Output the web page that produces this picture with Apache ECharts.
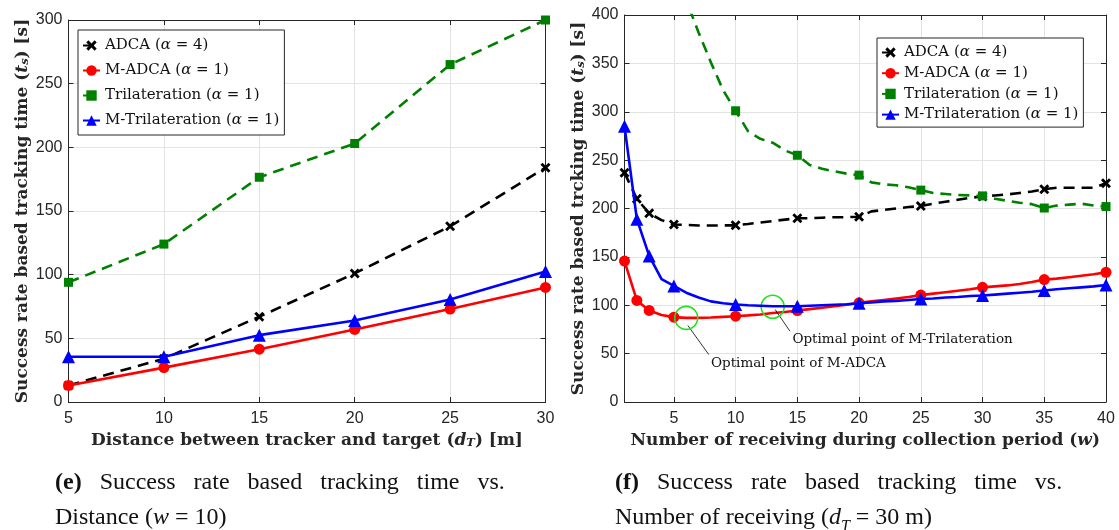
<!DOCTYPE html>
<html><head><meta charset="utf-8">
<script src="https://cdn.jsdelivr.net/npm/echarts@6/dist/echarts.min.js"></script>
<style>html,body{margin:0;padding:0;background:#fff}#c{width:1119px;height:530px}</style>
</head><body><div id="c"></div>
<script>
// ---------- data: left panel (vs. distance) ----------
const leftX = [5, 10, 15, 20, 25, 30];
const leftADCA = [13, 34, 67, 101, 138, 184];
const leftMADCA = [13, 27, 41.5, 57, 73, 90];
const leftTri = [94, 124, 176.5, 203, 265, 300];
const leftMTri = [35.5, 35.5, 52.5, 64, 80.5, 102.5];

// ---------- data: right panel (vs. number of receiving) ----------
const rightW = [1,2,3,4,5,6,7,8,9,10,11,12,13,14,15,16,17,18,19,20,21,22,23,24,25,26,27,28,29,30,31,32,33,34,35,36,37,38,39,40];
const rightADCA = [237,210,195,188,183.5,183,182.5,182.5,182.5,182.6,184,185.5,187,188.5,190,190,190.5,191,191,191.5,197,198.5,200,201.5,202.5,205,207,209,211,212.5,213.5,214.5,216,217.5,220,221.5,221.5,221.5,221.5,226];
const rightMADCA = [145.7,105,94.6,90,87.7,87,87,87.3,88,88.7,89.5,90.5,92,93,94.5,96,97.5,99,100.5,102.5,104,105.5,107,108.5,110.5,112,113.5,115,116.5,118.5,119.5,120.5,122,124,126.5,127.5,129,130.5,132,134];
const rightTriW = [5,6,7,8,9,10,11,12,13,14,15,16,17,18,19,20,21,22,23,24,25,26,27,28,29,30,31,32,33,34,35,36,37,38,39,40];
const rightTri = [460,415,382,351,322,301,280,272,268,260,255,245,241,238.5,236,234.5,227,225,224,222,219,216,215,214,213.5,213,210,208,206,204.5,200.5,203,204,205,203,202];
const rightMTri = [285,189,151,127,120,113,108,104,102,100.8,100,99.5,99,99,99,99.5,100,100.5,101,102,103,104,104.5,105.5,106.5,107,108,108.5,109.5,110,111,112,113,114,115.3,116.5,117.5,118.5,119.5,121];
const rightMarkerW = [1, 2, 3, 5, 10, 15, 20, 25, 30, 35, 40];
const rightXTicks = [5, 10, 15, 20, 25, 30, 35, 40];

// annotations (data coordinates of the right panel)
const optimalCircles = [[6, 87], [13, 98.4]];
const arrowMADCA = [[7.83, 49], [6.13, 79.1]];
const arrowMTri = [[14.4, 73.2], [13.2, 95.6]];
const textMADCA = [8.0, 39.8];
const textMTri = [14.6, 64.6];

const names = ['ADCA (α = 4)', 'M-ADCA (α = 1)', 'Trilateration (α = 1)', 'M-Trilateration (α = 1)'];

// ---------- styles ----------
const AX = '#262626';
const GRIDC = '#e3e3e3';
const SANS = 'Liberation Sans, Arial, sans-serif';
const SERIF = 'Liberation Serif, Times New Roman, serif';
const CM = 'DejaVu Serif, serif';
const XSYM = 'path://M2,0 L5,3 L8,0 L10,2 L7,5 L10,8 L8,10 L5,7 L2,10 L0,8 L3,5 L0,2 Z';
const DASH = [11, 7];
const styles = [
  {color: '#000000', symbol: XSYM, size: 10, dash: DASH},
  {color: '#ff0000', symbol: 'circle', size: 11, dash: 'solid'},
  {color: '#008000', symbol: 'rect', size: 9, dash: DASH},
  {color: '#0000ff', symbol: 'triangle', size: 13, dash: 'solid'}
];

function zip(xs, ys) { return xs.map((x, i) => [x, ys[i]]); }

const grids = [
  {left: 68.5, top: 20, width: 477, height: 382},
  {left: 624.5, top: 15, width: 481.5, height: 387}
];

const TFS = 17;
const titleStyle = {color: AX, fontFamily: CM, fontWeight: 'bold', fontSize: TFS,
  rich: {i: {fontFamily: CM, fontStyle: 'italic', fontSize: TFS, color: AX},
         s: {fontFamily: CM, fontStyle: 'italic', fontSize: 11.5, color: AX, verticalAlign: 'bottom'},
         r: {fontFamily: CM, fontSize: TFS, color: AX}}};

function mainX(gi, min, max, interval, custom, name) {
  const o = {
    type: 'value', gridIndex: gi, min: min, max: max,
    axisLine: {show: true, onZero: false, lineStyle: {color: AX, width: 1}},
    axisTick: {show: true, inside: true, length: 5, lineStyle: {color: AX}},
    axisLabel: {color: AX, fontFamily: SANS, fontSize: 16, margin: 9},
    splitLine: {show: true, lineStyle: {color: GRIDC, width: 1}},
    name: name, nameLocation: 'middle', nameGap: 25, nameTextStyle: titleStyle
  };
  if (interval) o.interval = interval;
  if (custom) { o.axisLabel.customValues = custom; o.axisTick.customValues = custom; }
  return o;
}
function mainY(gi, min, max, interval, name, gap) {
  return {
    type: 'value', gridIndex: gi, min: min, max: max, interval: interval,
    axisLine: {show: true, onZero: false, lineStyle: {color: AX, width: 1}},
    axisTick: {show: true, inside: true, length: 5, lineStyle: {color: AX}},
    axisLabel: {color: AX, fontFamily: SANS, fontSize: 16, margin: 6},
    splitLine: {show: true, lineStyle: {color: GRIDC, width: 1}},
    name: name, nameLocation: 'middle', nameGap: gap, nameRotate: 90, nameTextStyle: titleStyle
  };
}
function mirrorX(gi, min, max, interval, custom) {
  const o = {type: 'value', gridIndex: gi, position: 'top', min: min, max: max,
    axisLine: {show: true, onZero: false, lineStyle: {color: AX, width: 1}},
    axisTick: {show: true, inside: true, length: 5, lineStyle: {color: AX}},
    axisLabel: {show: false}, splitLine: {show: false}};
  if (interval) o.interval = interval;
  if (custom) { o.axisTick.customValues = custom; o.axisLabel.customValues = custom; }
  return o;
}
function mirrorY(gi, min, max, interval) {
  return {type: 'value', gridIndex: gi, position: 'right', min: min, max: max, interval: interval,
    axisLine: {show: true, onZero: false, lineStyle: {color: AX, width: 1}},
    axisTick: {show: true, inside: true, length: 5, lineStyle: {color: AX}},
    axisLabel: {show: false}, splitLine: {show: false}};
}

function mkSeries(k, xi, yi, data, markerList) {
  const st = styles[k];
  return {
    type: 'line', name: names[k], xAxisIndex: xi, yAxisIndex: yi, data: data,
    symbol: st.symbol, showAllSymbol: true, clip: true,
    symbolSize: markerList ? (v) => (markerList.indexOf(v[0]) >= 0 ? st.size : 0) : st.size,
    lineStyle: {color: st.color, width: 2.6, type: st.dash},
    itemStyle: {color: st.color, borderWidth: 0},
    emphasis: {disabled: true}, animation: false, z: 3 + k
  };
}

const series = [
  mkSeries(0, 0, 0, zip(leftX, leftADCA)),
  mkSeries(1, 0, 0, zip(leftX, leftMADCA)),
  mkSeries(2, 0, 0, zip(leftX, leftTri)),
  mkSeries(3, 0, 0, zip(leftX, leftMTri)),
  mkSeries(0, 2, 2, zip(rightW, rightADCA), rightMarkerW),
  mkSeries(1, 2, 2, zip(rightW, rightMADCA), rightMarkerW),
  mkSeries(2, 2, 2, zip(rightTriW, rightTri), rightMarkerW),
  mkSeries(3, 2, 2, zip(rightW, rightMTri), rightMarkerW)
];

// annotations on the right panel
const ANNFS = 13.5;
series.push({
  type: 'line', xAxisIndex: 2, yAxisIndex: 2, data: [], silent: true, animation: false, z: 10,
  markPoint: {
    silent: true, animation: false,
    data: optimalCircles.map(c => ({coord: c, symbol: 'circle', symbolSize: 23,
      itemStyle: {color: 'rgba(0,0,0,0)', borderColor: '#22e022', borderWidth: 1.6}, label: {show: false}}))
      .concat([
        {coord: textMADCA, symbol: 'circle', symbolSize: 0, label: {show: true, position: 'right', distance: 0,
          formatter: 'Optimal point of M-ADCA', color: '#111', fontFamily: CM, fontSize: ANNFS}},
        {coord: textMTri, symbol: 'circle', symbolSize: 0, label: {show: true, position: 'right', distance: 0,
          formatter: 'Optimal point of M-Trilateration', color: '#111', fontFamily: CM, fontSize: ANNFS}}
      ])
  },
  markLine: {
    silent: true, animation: false, symbol: ['none', 'arrow'], symbolSize: [0, 7],
    lineStyle: {color: '#000', width: 0.8, type: 'solid'}, label: {show: false},
    data: [
      [{coord: arrowMADCA[0]}, {coord: arrowMADCA[1]}],
      [{coord: arrowMTri[0]}, {coord: arrowMTri[1]}]
    ]
  }
});

const LFS = 15;
const legendText = {
  color: '#111', fontFamily: CM, fontSize: LFS,
  rich: {i: {fontFamily: CM, fontStyle: 'italic', fontSize: LFS, color: '#111'}}
};
const legendFmt = (n) => n.replace('α', '{i|α}');

const CAPFS = 24;
const capRich = {
  b: {fontFamily: SERIF, fontSize: CAPFS, fontWeight: 'bold', color: '#111', lineHeight: 35},
  i: {fontFamily: SERIF, fontSize: CAPFS, fontStyle: 'italic', color: '#111', lineHeight: 35},
  s: {fontFamily: SERIF, fontSize: 16, fontStyle: 'italic', color: '#111', verticalAlign: 'bottom', lineHeight: 35}
};
const capLine1 = (tag) => '{b|(' + tag + ')}   Success   rate   based   tracking   time   vs.';

const option = {
  animation: false,
  backgroundColor: '#fff',
  grid: grids,
  xAxis: [
    mainX(0, 5, 30, 5, null, 'Distance between tracker and target {r|(}{i|d}{s|T}{r|)} [m]'),
    mirrorX(0, 5, 30, 5, null),
    mainX(1, 1, 40, null, rightXTicks, 'Number of receiving during collection period {r|(}{i|w}{r|)}'),
    mirrorX(1, 1, 40, null, rightXTicks)
  ],
  yAxis: [
    mainY(0, 0, 300, 50, 'Success rate based tracking time {r|(}{i|t}{s|s}{r|)} [s]', 37),
    mirrorY(0, 0, 300, 50),
    mainY(1, 0, 400, 50, 'Success rate based trcking time {r|(}{i|t}{s|s}{r|)} [s]', 37),
    mirrorY(1, 0, 400, 50)
  ],
  legend: [
    {data: names, orient: 'vertical', left: 78, top: 30, padding: [8, 5, 7, 4], itemGap: 10,
     itemWidth: 17, itemHeight: 13, backgroundColor: '#fff', borderColor: AX, borderWidth: 1, borderRadius: 0,
     textStyle: legendText, formatter: legendFmt, selectedMode: false},
    {data: names, orient: 'vertical', left: 877, top: 38, padding: [7, 5, 5, 4], itemGap: 5.7,
     itemWidth: 17, itemHeight: 13, backgroundColor: '#fff', borderColor: AX, borderWidth: 1, borderRadius: 0,
     textStyle: legendText, formatter: legendFmt, selectedMode: false}
  ],
  title: [
    {left: 55, top: 465, padding: 0, text: capLine1('e') + '\nDistance ({i|w} = 10)',
     textStyle: {fontFamily: SERIF, fontSize: CAPFS, fontWeight: 'normal', color: '#111', lineHeight: 35, rich: capRich}},
    {left: 615, top: 465, padding: 0, text: capLine1('f') + '\nNumber of receiving ({i|d}{s|T} = 30 m)',
     textStyle: {fontFamily: SERIF, fontSize: CAPFS, fontWeight: 'normal', color: '#111', lineHeight: 35, rich: capRich}}
  ],
  series: series
};

const chart = echarts.init(document.getElementById('c'), null, {renderer: 'canvas'});
chart.setOption(option);
</script>
</body></html>
